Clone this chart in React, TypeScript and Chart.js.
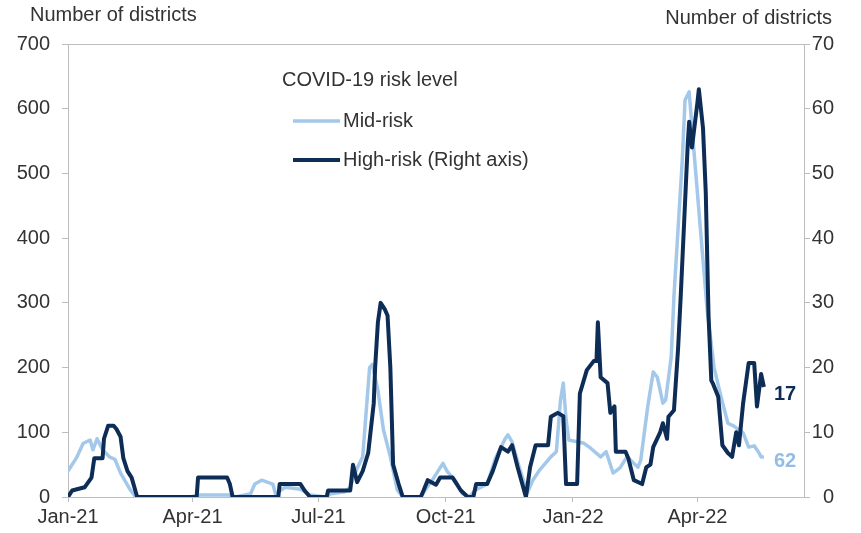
import React, { useEffect, useRef } from "react";
import { Chart, registerables } from "chart.js";

Chart.register(...registerables);

// x values are days counted from 1 Jan 2021
const xTickDays = [0, 90, 181, 273, 365, 455];
const xTickLabels = ["Jan-21", "Apr-21", "Jul-21", "Oct-21", "Jan-22", "Apr-22"];

const axisTitleLeft = "Number of districts";
const axisTitleRight = "Number of districts";
const legendTitle = "COVID-19 risk level";
const midLabel = "Mid-risk";
const highLabel = "High-risk (Right axis)";

// Mid-risk (left axis)
const midDays = [
  0, 6, 11, 16, 18, 21, 25, 30, 34, 38, 45, 49, 88, 95, 116, 121, 132, 135, 140, 148,
  150, 157, 168, 175, 186, 190, 200, 204, 208, 213, 218, 220, 224, 228, 233, 238, 242, 255, 258, 263,
  271, 274, 280, 285, 290, 294, 303, 309, 316, 318, 321, 327, 332, 336, 341, 349, 353, 356, 358, 360,
  362, 373, 378, 385, 389, 394, 399, 404, 412, 414, 419, 423, 426, 430, 432, 436, 438, 444, 446, 449,
  451, 457, 462, 467, 472, 477, 481, 488, 492, 496, 499, 501, 503,
];
const midRisk = [
  40, 60, 83, 88, 73, 90, 73, 62, 58, 37, 11, 0, 0, 3, 3, 0, 5, 20, 26, 20,
  5, 15, 12, 3, 0, 5, 8, 15, 40, 62, 200, 205, 165, 104, 62, 11, 0, 0, 10, 25,
  52, 40, 25, 5, 0, 10, 20, 60, 90, 96, 85, 40, 6, 26, 42, 62, 70, 150, 176, 120,
  88, 83, 75, 62, 70, 37, 45, 62, 46, 57, 139, 193, 185, 145, 150, 216, 310, 520, 613, 626,
  572, 417, 289, 200, 155, 114, 110, 99, 77, 79, 70, 62, 62,
];

// High-risk (right axis)
const highDays = [
  0, 3, 12, 17, 19, 25, 26, 29, 33, 35, 38, 40, 43, 46, 50, 93, 94, 115, 117, 119,
  152, 153, 168, 171, 175, 187, 188, 204, 206, 209, 213, 217, 221, 222, 224, 226, 229, 231, 233, 235,
  239, 242, 255, 257, 260, 266, 269, 278, 284, 289, 293, 295, 303, 307, 313, 318, 321, 325, 331, 334,
  338, 347, 349, 354, 358, 360, 368, 370, 375, 380, 382, 383, 385, 390, 392, 395, 396, 403, 405, 409,
  415, 418, 421, 423, 428, 430, 433, 434, 438, 441, 443, 448, 449, 451, 455, 456, 459, 461, 463, 465,
  466, 470, 473, 477, 480, 483, 485, 488, 492, 496, 498, 501, 503,
];
const highRisk = [
  0, 1, 1.5, 3, 6, 6, 9, 11, 11, 10.5, 9.3, 6, 4, 3, 0, 0, 3, 3, 2, 0,
  0, 2, 2, 1, 0, 0, 1, 1, 5, 2.3, 4, 6.8, 14.5, 20, 27, 30, 29, 28, 20, 5,
  2, 0, 0, 1, 2.6, 1.9, 3, 3, 1, 0, 0, 2, 2, 4, 7.7, 7, 8, 4.6, 0, 4.6,
  8, 8, 12.4, 13, 12.5, 2, 2, 16, 19.6, 21, 21, 27, 18.5, 17.6, 13, 14, 7, 7, 6, 2.6,
  2, 4.6, 5, 7.7, 10, 11.4, 9, 12.4, 13.4, 23, 31.5, 54.7, 58, 54, 61, 63, 57, 47, 28, 18,
  17.6, 15.5, 8, 6.8, 6.2, 10, 8, 14.5, 20.7, 20.7, 14, 19, 17,
];

const LIGHT = "#a3c8ea";
const LIGHT_TEXT = "#93bde4";
const DARK = "#0d2d56";
const AXIS = "#bdbdbd";
const TEXT = "#333333";
const FAMILY = "'Liberation Sans', Arial, Helvetica, sans-serif";

export default function App() {
  const ref = useRef<HTMLCanvasElement>(null);

  useEffect(() => {
    if (!ref.current) return;

    const overlay = {
      id: "overlay",
      afterDraw(chart: any) {
        const ctx = chart.ctx as CanvasRenderingContext2D;
        const area = chart.chartArea;
        ctx.save();
        // top border of plot area
        ctx.strokeStyle = AXIS;
        ctx.lineWidth = 1;
        ctx.beginPath();
        ctx.moveTo(area.left, area.top + 0.5);
        ctx.lineTo(area.right, area.top + 0.5);
        ctx.stroke();

        // axis titles
        ctx.fillStyle = TEXT;
        ctx.font = `20px ${FAMILY}`;
        ctx.textBaseline = "middle";
        ctx.textAlign = "left";
        ctx.fillText(axisTitleLeft, 30, 15);
        ctx.textAlign = "right";
        ctx.fillText(axisTitleRight, 832, 18);

        // legend
        ctx.textAlign = "left";
        ctx.fillText(legendTitle, 282, 80);
        ctx.lineCap = "butt";
        ctx.strokeStyle = LIGHT;
        ctx.lineWidth = 3.5;
        ctx.beginPath();
        ctx.moveTo(293, 121);
        ctx.lineTo(340, 121);
        ctx.stroke();
        ctx.fillText(midLabel, 343, 121);
        ctx.strokeStyle = DARK;
        ctx.lineWidth = 4;
        ctx.beginPath();
        ctx.moveTo(293, 160);
        ctx.lineTo(340, 160);
        ctx.stroke();
        ctx.fillText(highLabel, 343, 160);

        // end labels
        const xs = chart.scales.x;
        const yl = chart.scales.y;
        const yr = chart.scales.y1;
        const lastHigh = highRisk[highRisk.length - 1];
        const lastMid = midRisk[midRisk.length - 1];
        ctx.font = `bold 20px ${FAMILY}`;
        ctx.fillStyle = DARK;
        ctx.fillText(
          String(lastHigh),
          xs.getPixelForValue(highDays[highDays.length - 1]) + 10,
          yr.getPixelForValue(lastHigh) + 7
        );
        ctx.fillStyle = LIGHT_TEXT;
        ctx.fillText(
          String(lastMid),
          xs.getPixelForValue(midDays[midDays.length - 1]) + 10,
          yl.getPixelForValue(lastMid) + 5
        );
        ctx.restore();
      },
    };

    const tickFont = { family: FAMILY, size: 20 };

    const chart = new Chart(ref.current, {
      type: "line",
      data: {
        datasets: [
          {
            label: highLabel,
            data: highDays.map((d, i) => ({ x: d, y: highRisk[i] })),
            yAxisID: "y1",
            borderColor: DARK,
            backgroundColor: DARK,
            borderWidth: 4,
            pointRadius: 0,
            tension: 0,
            borderJoinStyle: "round",
            order: 0,
          },
          {
            label: midLabel,
            data: midDays.map((d, i) => ({ x: d, y: midRisk[i] })),
            yAxisID: "y",
            borderColor: LIGHT,
            backgroundColor: LIGHT,
            borderWidth: 3.5,
            pointRadius: 0,
            tension: 0,
            borderJoinStyle: "round",
            order: 1,
          },
        ],
      },
      options: {
        animation: false,
        responsive: false,
        maintainAspectRatio: false,
        layout: { padding: { left: 0, right: 27, top: 44, bottom: 0 } },
        plugins: {
          legend: { display: false },
          tooltip: { enabled: false },
        },
        scales: {
          x: {
            type: "linear",
            min: 0,
            max: 532,
            afterBuildTicks: (s: any) => {
              s.ticks = xTickDays.map((v) => ({ value: v }));
            },
            afterFit: (s: any) => {
              s.height = 36;
            },
            ticks: {
              autoSkip: false,
              maxRotation: 0,
              minRotation: 0,
              padding: 3,
              color: TEXT,
              font: tickFont,
              callback: (v: any) => {
                const i = xTickDays.indexOf(Number(v));
                return i >= 0 ? xTickLabels[i] : "";
              },
            },
            grid: { display: true, drawOnChartArea: false, drawTicks: true, tickLength: 5, color: AXIS },
            border: { display: true, color: AXIS, width: 1 },
          },
          y: {
            position: "left",
            min: 0,
            max: 700,
            afterFit: (s: any) => {
              s.width = 68;
            },
            ticks: { stepSize: 100, padding: 12, color: TEXT, font: tickFont },
            grid: { display: true, drawOnChartArea: false, drawTicks: true, tickLength: 6, color: AXIS },
            border: { display: true, color: AXIS, width: 1 },
          },
          y1: {
            position: "right",
            min: 0,
            max: 70,
            afterFit: (s: any) => {
              s.width = 30;
            },
            ticks: { stepSize: 10, padding: 6, crossAlign: "far", color: TEXT, font: tickFont },
            grid: { display: true, drawOnChartArea: false, drawTicks: true, tickLength: 6, color: AXIS },
            border: { display: true, color: AXIS, width: 1 },
          },
        },
      },
      plugins: [overlay],
    } as any);

    return () => chart.destroy();
  }, []);

  return (
    <div style={{ position: "absolute", left: 0, top: 0, width: 861, height: 533, background: "#fff" }}>
      <canvas ref={ref} width={861} height={533} style={{ display: "block", width: 861, height: 533 }} />
    </div>
  );
}
